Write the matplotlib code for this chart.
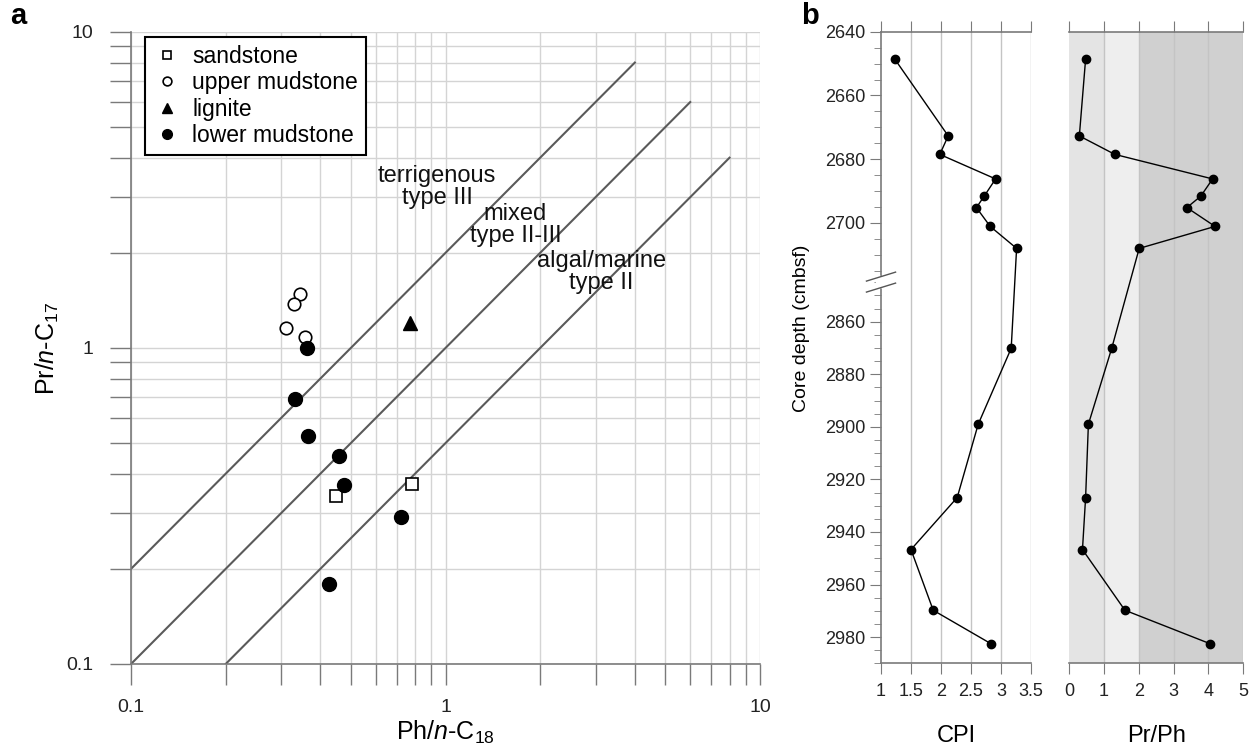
import numpy as np
import matplotlib
matplotlib.use("Agg")
import matplotlib.pyplot as plt

plt.rcParams["font.family"] = ["Liberation Sans", "DejaVu Sans"]
plt.rcParams["mathtext.fontset"] = "custom"
plt.rcParams["mathtext.rm"] = "Liberation Sans"
plt.rcParams["mathtext.it"] = "Liberation Sans:italic"

# panel a: Ph/n-C18 (x) against Pr/n-C17 (y)
sand_x = [0.45, 0.78]
sand_y = [0.34, 0.37]
upper_x = [0.345, 0.33, 0.31, 0.357]
upper_y = [1.48, 1.38, 1.16, 1.08]
lignite_x = [0.77]
lignite_y = [1.20]
lower_x = [0.363, 0.332, 0.365, 0.46, 0.477, 0.722, 0.426]
lower_y = [1.0, 0.69, 0.527, 0.455, 0.368, 0.292, 0.179]

# source boundaries, start and end point of each line
bound_x = [[0.1, 4], [0.1, 6], [0.2, 8]]
bound_y = [[0.2, 8], [0.1, 6], [0.1, 4]]

zone_labels = ["terrigenous\ntype III", "mixed\ntype II-III", "algal/marine\ntype II"]
zone_x = [0.94, 1.67, 3.13]
zone_y = [3.23, 2.45, 1.74]

# panel b: depth profiles
depth = [2648.6, 2672.7, 2678.5, 2686.2, 2691.6, 2695.2, 2701.1, 2708.0,
         2870.1, 2899.0, 2926.9, 2946.7, 2969.8, 2982.5]
cpi = [1.23, 2.12, 1.98, 2.91, 2.72, 2.59, 2.82, 3.26,
       3.17, 2.62, 2.27, 1.50, 1.87, 2.83]
pr_ph = [0.47, 0.29, 1.31, 4.12, 3.78, 3.38, 4.19, 2.01,
         1.22, 0.55, 0.47, 0.38, 1.60, 4.04]
depth_ticks = [2640, 2660, 2680, 2700, 2860, 2880, 2900, 2920, 2940, 2960, 2980]
cpi_ticks = [1, 1.5, 2, 2.5, 3, 3.5]
cpi_labels = ["1", "1.5", "2", "2.5", "3", "3.5"]
prph_ticks = [0, 1, 2, 3, 4, 5]

# broken depth axis: upper and lower sections drawn at different scales
KNOT_D = [2000, 2640, 2718.5, 2845, 2990, 3600]
KNOT_V = [-2037.0, 0.0, 249.9, 250.4, 631.0, 2232.0]


def depth_fwd(d):
    return np.interp(d, KNOT_D, KNOT_V)


def depth_inv(v):
    return np.interp(v, KNOT_V, KNOT_D)


GRID = "#d4d4d4"
SPINE = "#7a7a7a"

fig = plt.figure(figsize=(12.5, 7.48), dpi=100)

# ---------------- panel a ----------------
ax = fig.add_axes([0.1048, 0.1123, 0.5032, 0.845])
ax.set_xscale("log")
ax.set_yscale("log")
ax.set_xlim(0.1, 10)
ax.set_ylim(0.1, 10)
ax.grid(True, which="both", color=GRID, linewidth=1.0)
ax.set_axisbelow(True)

for bx, by in zip(bound_x, bound_y):
    ax.plot(bx, by, color="#5a5a5a", linewidth=1.5, zorder=2)

for label, tx, ty in zip(zone_labels, zone_x, zone_y):
    ax.text(tx, ty, label, ha="center", va="center", fontsize=17,
            linespacing=1.05, color="#111111", zorder=3)

ax.plot(sand_x, sand_y, "s", ms=8, mfc="white", mec="black", mew=1.2,
        ls="none", label="sandstone", zorder=4)
ax.plot(upper_x, upper_y, "o", ms=9, mfc="white", mec="black", mew=1.2,
        ls="none", label="upper mudstone", zorder=4)
ax.plot(lignite_x, lignite_y, "^", ms=10, color="black", ls="none",
        label="lignite", zorder=4)
ax.plot(lower_x, lower_y, "o", ms=10, color="black", ls="none",
        label="lower mudstone", zorder=5)

leg = ax.legend(loc="upper left", bbox_to_anchor=(0.023, 0.992),
                borderaxespad=0, fontsize=16.5, markerscale=0.7,
                fancybox=False, framealpha=1, edgecolor="black",
                handletextpad=0.5, labelspacing=0.15, borderpad=0.35,
                handlelength=1.2)
leg.get_frame().set_linewidth(1.5)

ax.set_xticks([0.1, 1, 10], ["0.1", "1", "10"])
ax.set_yticks([0.1, 1, 10], ["0.1", "1", "10"])
ax.tick_params(which="both", length=15, width=1, color=SPINE,
               labelsize=14, labelcolor="#222222")
ax.tick_params(axis="x", which="both", pad=10)
ax.tick_params(axis="y", which="both", pad=12)
for side in ["top", "right"]:
    ax.spines[side].set_visible(False)
for side in ["left", "bottom"]:
    ax.spines[side].set_color(SPINE)
    ax.spines[side].set_linewidth(1.2)
ax.set_xlabel("Ph/$n$-C$_{18}$", fontsize=18, labelpad=2)
ax.set_ylabel("Pr/$n$-C$_{17}$", fontsize=18, labelpad=4)

# ---------------- panel b ----------------
ax_c = fig.add_axes([0.7048, 0.1132, 0.12, 0.8444])
ax_p = fig.add_axes([0.8554, 0.1132, 0.1392, 0.8444], sharey=ax_c)

ax_c.set_yscale("function", functions=(depth_fwd, depth_inv))
ax_c.set_ylim(2990, 2640)

ax_p.axvspan(0, 1, color="#e4e4e4", lw=0, zorder=0)
ax_p.axvspan(1, 2, color="#eeeeee", lw=0, zorder=0)
ax_p.axvspan(2, 5, color="#d0d0d0", lw=0, zorder=0)

for a, vals, ticks in [(ax_c, cpi, cpi_ticks), (ax_p, pr_ph, prph_ticks)]:
    for t in ticks[1:]:
        a.axvline(t, color="#c4c4c4", linewidth=1.0, zorder=1)
    a.plot(vals, depth, color="black", linewidth=1.0, marker="o", ms=6,
           zorder=3)
    a.set_xticks(ticks)
    a.tick_params(axis="x", top=True, bottom=True, direction="out",
                  length=8, color=SPINE, labelsize=13, pad=6,
                  labelcolor="#222222")
    a.spines["right"].set_visible(False)
    for side in ["top", "bottom"]:
        a.spines[side].set_color(SPINE)
        a.spines[side].set_linewidth(1.2)

ax_c.set_xlim(1, 3.5)
ax_c.set_xticklabels(cpi_labels)
ax_p.set_xlim(0, 5)

ax_c.spines["left"].set_color(SPINE)
ax_c.spines["left"].set_linewidth(1.2)
ax_c.set_yticks(depth_ticks)
minor = [d for d in range(2640, 2720, 5)] + [d for d in range(2845, 2995, 5)]
ax_c.set_yticks(minor, minor=True)
ax_c.tick_params(axis="y", which="major", length=8, color=SPINE,
                 labelsize=13, labelcolor="#222222")
ax_c.tick_params(axis="y", which="minor", length=5, color=SPINE,
                 labelleft=False)
ax_c.set_ylabel("Core depth (cmbsf)", fontsize=14)
ax_c.yaxis.set_label_coords(-0.47, 0.53)

ax_p.spines["left"].set_visible(False)
ax_p.tick_params(axis="y", which="both", left=False, labelleft=False)

ax_c.set_xlabel("CPI", fontsize=17, labelpad=18)
ax_p.set_xlabel("Pr/Ph", fontsize=17, labelpad=18)

# break marks on the depth axis
yb = ax_c.transAxes.inverted().transform(
    ax_c.transData.transform((1, 2781)))[1]
dx, dy, gap = 0.097, 0.0071, 0.0087
ax_c.fill([-0.03, 0.03, 0.03, -0.03],
          [yb + gap + dy * 0.2, yb + gap - dy * 0.2,
           yb - gap - dy * 0.2, yb - gap + dy * 0.2],
          transform=ax_c.transAxes, color="white", clip_on=False, zorder=6)
for off in (gap, -gap):
    ax_c.plot([-dx, dx], [yb + off - dy, yb + off + dy], color="#555555",
              linewidth=1.0, transform=ax_c.transAxes, clip_on=False, zorder=7)

fig.text(0.008, 0.968, "a", fontsize=21, fontweight="bold")
fig.text(0.641, 0.968, "b", fontsize=21, fontweight="bold")

fig.savefig("out.png", dpi=100)
plt.close(fig)
